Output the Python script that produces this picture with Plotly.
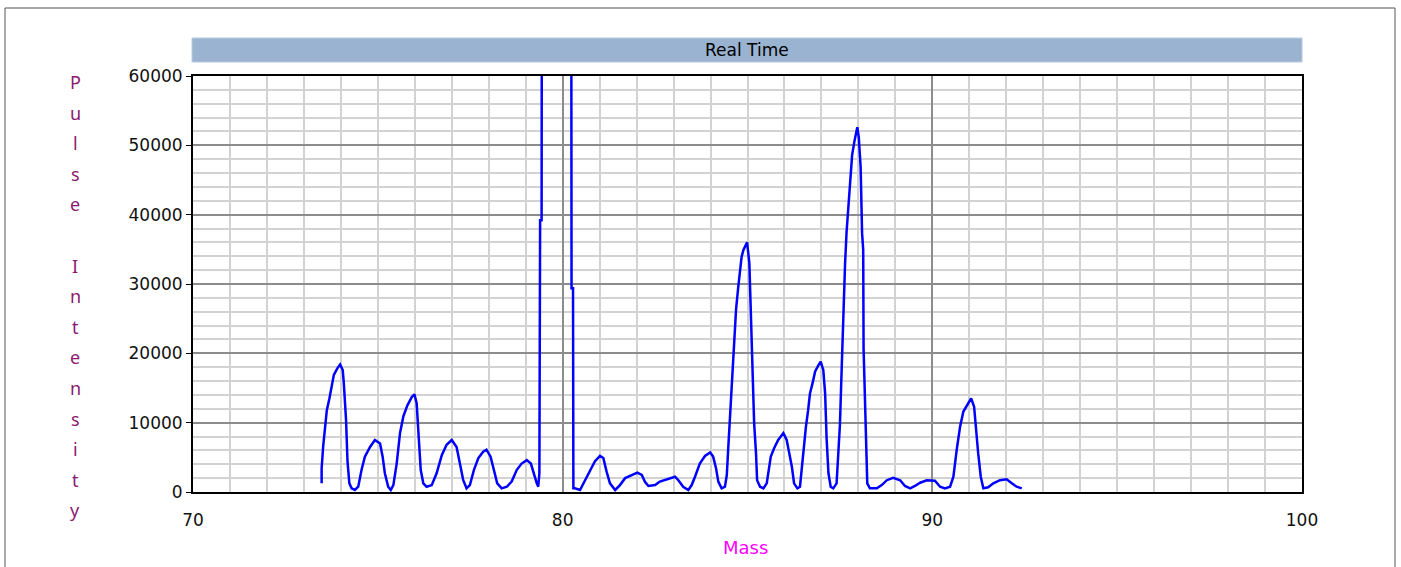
import plotly.graph_objects as go

# ---- data (Mass vs Pulse Intensity) ----
mass = [
    73.48, 73.48, 73.52, 73.57, 73.62, 73.69, 73.75, 73.81, 73.90, 73.98,
    74.05, 74.08, 74.14, 74.18, 74.23, 74.29, 74.38, 74.47, 74.56, 74.65,
    74.79, 74.92, 75.06, 75.13, 75.19, 75.28, 75.35, 75.42, 75.51, 75.60,
    75.69, 75.80, 75.92, 75.99, 76.05, 76.11, 76.16, 76.23, 76.32, 76.46,
    76.59, 76.73, 76.86, 77.00, 77.13, 77.22, 77.31, 77.40, 77.49, 77.60,
    77.72, 77.85, 77.94, 78.05, 78.14, 78.23, 78.35, 78.49, 78.62, 78.76,
    78.89, 79.03, 79.14, 79.21, 79.30, 79.34, 79.37, 79.39, 79.43, 79.44,
    80.23, 80.24, 80.28, 80.29, 80.33, 80.47, 80.60, 80.74, 80.87, 81.01,
    81.10, 81.19, 81.28, 81.42, 81.55, 81.69, 81.87, 82.02, 82.14, 82.23,
    82.32, 82.50, 82.63, 82.81, 83.04, 83.13, 83.26, 83.40, 83.49, 83.58,
    83.71, 83.85, 83.99, 84.07, 84.15, 84.21, 84.30, 84.39, 84.44, 84.48,
    84.54, 84.60, 84.64, 84.69, 84.75, 84.80, 84.84, 84.89, 84.93, 84.99,
    85.05, 85.09, 85.14, 85.18, 85.23, 85.26, 85.34, 85.43, 85.52, 85.56,
    85.63, 85.72, 85.83, 85.97, 86.06, 86.13, 86.20, 86.26, 86.35, 86.42,
    86.47, 86.53, 86.58, 86.64, 86.69, 86.76, 86.83, 86.92, 86.98, 87.05,
    87.10, 87.14, 87.19, 87.25, 87.32, 87.41, 87.46, 87.50, 87.55, 87.59,
    87.64, 87.68, 87.73, 87.79, 87.83, 87.89, 87.93, 87.97, 88.01, 88.06,
    88.10, 88.13, 88.14, 88.20, 88.24, 88.31, 88.50, 88.63, 88.77, 88.94,
    89.13, 89.26, 89.40, 89.53, 89.67, 89.85, 90.07, 90.21, 90.34, 90.48,
    90.57, 90.66, 90.75, 90.84, 90.93, 91.05, 91.13, 91.18, 91.24, 91.31,
    91.38, 91.51, 91.65, 91.83, 92.01, 92.15, 92.28, 92.42,
]

intensity = [
    1250, 3400, 6500, 9400, 11800, 13500, 15200, 16900, 17800, 18400,
    17600, 15700, 10400, 4400, 1250, 530, 290, 760, 3200, 5100,
    6500, 7500, 7000, 5100, 2700, 760, 290, 1000, 4100, 8500,
    10900, 12500, 13700, 14100, 12800, 7700, 3200, 1250, 760, 1000,
    2700, 5300, 6800, 7500, 6500, 4100, 1700, 530, 1000, 3200,
    4900, 5800, 6100, 5100, 3200, 1250, 530, 760, 1500, 3200,
    4100, 4600, 4100, 2700, 1250, 760, 2700, 39200, 39200, 95000,
    95000, 29400, 29400, 530, 530, 290, 1700, 3200, 4400, 5200,
    4900, 2900, 1250, 290, 1000, 2000, 2450, 2800, 2450, 1450,
    870, 1000, 1500, 1830, 2200, 1700, 760, 290, 1000, 2200,
    4100, 5200, 5700, 5100, 3400, 1500, 530, 760, 2450, 6400,
    12100, 17600, 22600, 26300, 29600, 32300, 33900, 34900, 35400, 36000,
    33000, 26500, 15700, 9900, 5600, 1700, 760, 530, 1250, 2700,
    5100, 6300, 7500, 8500, 7500, 5600, 3650, 1250, 530, 760,
    3650, 6500, 9400, 11800, 14200, 15700, 17400, 18300, 18800, 17600,
    14200, 7700, 2700, 760, 530, 1250, 6100, 9700, 18100, 26300,
    33000, 37500, 41600, 45700, 48600, 50500, 51800, 52600, 51200, 46900,
    37300, 34900, 20700, 6300, 1250, 530, 530, 1000, 1700, 2060,
    1700, 870, 530, 870, 1340, 1700, 1630, 760, 530, 760,
    2200, 6100, 9400, 11600, 12500, 13500, 12300, 8900, 5600, 2200,
    530, 680, 1250, 1700, 1830, 1250, 760, 530,
]

x_ticks = [70, 80, 90, 100]
y_ticks = [0, 10000, 20000, 30000, 40000, 50000, 60000]
chart_title = "Real Time"
x_title = "Mass"
y_title = "Pulse Intensity"

# ---- figure ----
fig = go.Figure()
fig.add_trace(go.Scatter(
    x=mass, y=intensity, mode="lines",
    line=dict(color="#0000ff", width=2.5),
    hoverinfo="x+y",
))

tick_font = dict(family="DejaVu Sans", size=17, color="#111111")

fig.update_layout(
    width=1401, height=567,
    margin=dict(l=193, r=99, t=76, b=75),
    paper_bgcolor="white", plot_bgcolor="white",
    showlegend=False,
    xaxis=dict(
        range=[70, 100], tickvals=x_ticks, ticktext=[str(v) for v in x_ticks],
        showgrid=True, gridcolor="#8c8c8c", gridwidth=2,
        minor=dict(dtick=1, tick0=70, showgrid=True, gridcolor="#d2d2d2", gridwidth=2),
        showline=True, linecolor="black", linewidth=2, mirror=True,
        zeroline=False, ticks="", tickfont=tick_font, ticklabelstandoff=12,
    ),
    yaxis=dict(
        range=[0, 60000], tickvals=y_ticks, ticktext=[str(v) for v in y_ticks],
        showgrid=True, gridcolor="#8c8c8c", gridwidth=2,
        minor=dict(dtick=2000, tick0=0, showgrid=True, gridcolor="#d2d2d2", gridwidth=2),
        showline=True, linecolor="black", linewidth=2, mirror=True,
        zeroline=False, ticks="outside", ticklen=5, tickcolor="black", tickwidth=1,
        tickfont=tick_font,
    ),
)

plot_w = 1401 - 193 - 99
plot_h = 567 - 76 - 75

def px_to_paper_y(py):
    return (567 - 75 - py) / plot_h

def px_to_paper_x(px):
    return (px - 193) / plot_w

shapes = [
    # outer frame
    dict(type="rect", xref="paper", yref="paper",
         x0=px_to_paper_x(5), x1=px_to_paper_x(1395),
         y0=px_to_paper_y(600), y1=px_to_paper_y(8),
         line=dict(color="#555555", width=1), fillcolor="rgba(0,0,0,0)", layer="below"),
    # title bar
    dict(type="rect", xref="paper", yref="paper",
         x0=px_to_paper_x(192), x1=px_to_paper_x(1302),
         y0=px_to_paper_y(62), y1=px_to_paper_y(38),
         line=dict(color="#b9cbe0", width=1), fillcolor="#9ab3d0"),
]

annotations = [
    dict(text=chart_title, xref="paper", yref="paper",
         x=px_to_paper_x(747), y=px_to_paper_y(50), showarrow=False,
         xanchor="center", yanchor="middle",
         font=dict(family="DejaVu Sans", size=17, color="black")),
    dict(text=x_title, xref="paper", yref="paper",
         x=px_to_paper_x(745), y=px_to_paper_y(547), showarrow=False,
         xanchor="center", yanchor="middle",
         font=dict(family="DejaVu Sans", size=18, color="#ff00ff")),
]

# vertical stacked y-axis title, one letter per slot
slot0, slot_step = 82, 30.6
for i, ch in enumerate(y_title):
    if ch == " ":
        continue
    annotations.append(dict(
        text=ch, xref="paper", yref="paper",
        x=px_to_paper_x(75), y=px_to_paper_y(slot0 + i * slot_step),
        showarrow=False, xanchor="center", yanchor="middle",
        font=dict(family="Noto Sans", size=18, color="#8b1a6e"),
    ))

fig.update_layout(shapes=shapes, annotations=annotations)

fig.write_html("out.html", config={"displayModeBar": False},
               post_script="document.body.style.margin='0';")
